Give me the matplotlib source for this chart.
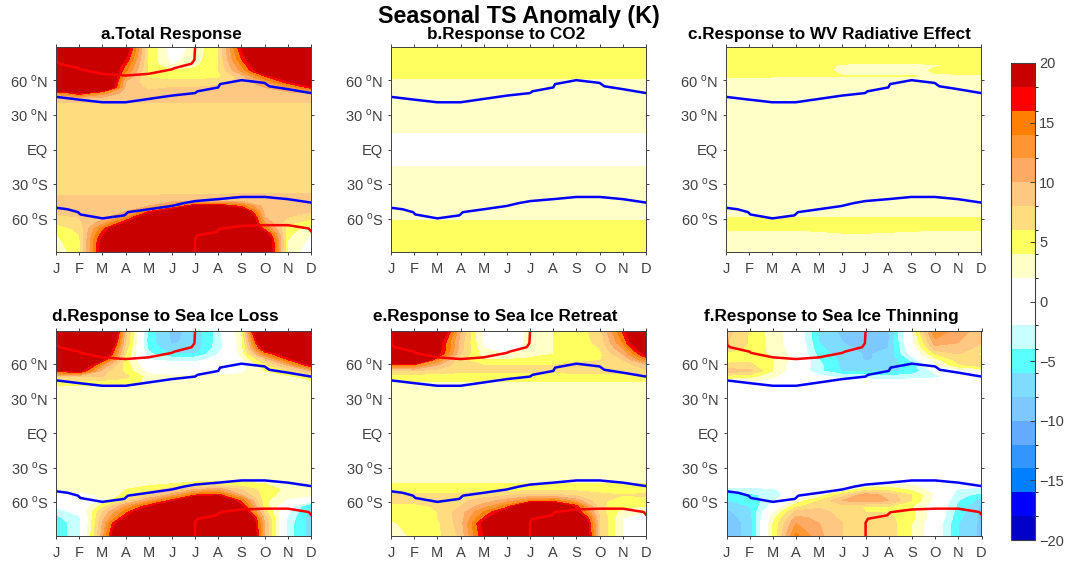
import matplotlib
matplotlib.use('Agg')
import matplotlib.pyplot as plt
from matplotlib.colors import ListedColormap, BoundaryNorm
import numpy as np

plt.rcParams['font.family'] = ['Liberation Sans', 'DejaVu Sans']
plt.rcParams['mathtext.fontset'] = 'custom'
plt.rcParams['mathtext.rm'] = 'Liberation Sans'

months = [1, 2, 3, 4, 5, 6, 7, 8, 9, 10, 11, 12]
month_labels = ['J', 'F', 'M', 'A', 'M', 'J', 'J', 'A', 'S', 'O', 'N', 'D']
lats = [89, 78.4, 73.5, 68.6, 63.7, 58.8, 53.9, 49, 44.1, 39.2, 29.4, 0,
        -29.4, -39.2, -44.1, -49, -53.9, -58.8, -63.7, -68.6, -73.5, -78.4, -89]
lat_ticks = [-60, -30, 0, 30, 60]
lat_labels = ['60 $^{\\mathrm{o}}$S', '30 $^{\\mathrm{o}}$S', 'EQ', '30 $^{\\mathrm{o}}$N', '60 $^{\\mathrm{o}}$N']
levels = [-20, -18, -16, -14, -12, -10, -8, -6, -4, -2, 0, 2, 4, 6, 8, 10, 12, 14, 16, 18, 20]
colors = ['#0000c8', '#0000ff', '#0080ff', '#3296ff', '#64aaff', '#7dc8ff', '#7ddcff', '#5affff', '#c8ffff', '#ffffff',
          '#ffffff', '#ffffc8', '#ffff5f', '#ffdc7d', '#ffc882', '#ffaa64', '#ff9632', '#ff8000', '#ff0000', '#c80000']

# sea ice edge lines
nh_edge_x = [1, 1.03, 1.15, 2, 2.05, 3, 4, 5, 6, 6.1, 6.85, 6.97, 7.0]
nh_edge_y = [89, 76.4, 74.5, 70.6, 69.6, 65.7, 64.2, 65.7, 69.6, 70.6, 74.5, 77.9, 89]
sh_edge_x = [7, 7, 7.1, 7.93, 8.07, 9, 10, 11, 11.9, 12]
sh_edge_y = [-89, -78, -74.5, -71.5, -68.8, -66.4, -65.7, -65.7, -68.6, -70.9]
# storm track lines
nh_track_x = [1, 2, 3, 4, 5, 6, 7, 7.1, 8, 8.08, 9, 10, 10.2, 11, 12]
nh_track_y = [45.7, 43.3, 41, 41, 43.9, 46.8, 49, 50.5, 53.9, 56.8, 60.2, 57.8, 54.9, 52.4, 49]
sh_track_x = [1, 1.5, 1.95, 2.05, 3, 3.95, 4.1, 5, 6, 6.5, 7, 8, 9, 10, 11, 12]
sh_track_y = [-50.6, -51.9, -54.4, -56.4, -59.8, -57.2, -54.4, -51.9, -49, -46.6, -44.8, -43.1, -41.2, -41.2, -43.1, -46.1]

ts_total = [
    [28, 28, 28, 21, 5.5, 1, 2.5, 6, 18, 28, 28, 28],
    [28, 28, 28, 18, 5.5, 1.2, 3, 6, 16, 26, 28, 28],
    [28, 28, 26, 16, 5.5, 1.9, 3.5, 6, 14, 24, 28, 28],
    [28, 28, 26, 14.5, 5.5, 4, 4.5, 6, 12.5, 22, 28, 28],
    [28, 28, 28, 12, 5.7, 5, 5, 5.5, 9, 16, 22, 25],
    [28, 28, 28, 10, 6.5, 6.5, 6.5, 7, 8.5, 12, 17.5, 22],
    [28, 28, 26, 9.5, 7.5, 8, 8, 8.5, 9, 10, 12, 17],
    [13, 18, 13, 9, 8.5, 8.5, 8.5, 8.5, 9, 9, 9.5, 10],
    [8.8, 8.8, 8.8, 8.8, 8.7, 8.7, 8.7, 8.8, 8.8, 8.8, 8.8, 8.8],
    [7.5, 7.5, 7.5, 7.5, 7.5, 7.5, 7.5, 7.5, 7.6, 7.6, 7.6, 7.6],
    [7, 7, 7, 7, 7, 7, 7, 7, 7, 7, 7, 7],
    [7, 7, 7, 7, 7, 7, 7, 7, 7, 7, 7, 7],
    [7, 7, 7, 7, 7, 7, 7, 7, 7, 7, 7, 7],
    [7.9, 7.9, 7.9, 7.9, 7.9, 8, 8, 8, 8.1, 8.1, 8.1, 8.1],
    [8.6, 8.6, 8.6, 8.6, 8.7, 8.8, 8.8, 8.8, 8.8, 8.8, 8.7, 8.6],
    [8.5, 8.5, 8.5, 9, 10, 13, 18.5, 19, 15, 9, 8.5, 8.5],
    [8.5, 8.5, 8.5, 10, 16, 21, 28, 28, 22, 9.5, 8.5, 8],
    [7.5, 8, 9, 13, 22, 28, 28, 28, 28, 10, 8, 6.5],
    [6.2, 7.5, 11, 18, 28, 28, 28, 28, 28, 12, 6.5, 5],
    [5, 6.5, 15, 25, 28, 28, 28, 28, 28, 15, 5, 3],
    [4, 6, 17, 27, 28, 28, 28, 28, 28, 20, 4.5, 2],
    [3.5, 5.5, 19, 28, 28, 28, 28, 28, 28, 24, 4, 1.5],
    [3, 5, 20, 28, 28, 28, 28, 28, 28, 25, 3.5, 0.5],
]

ts_co2 = [
    [5, 5, 5, 5, 5, 5, 5, 5, 5, 5, 5, 5],
    [5, 5, 5, 5, 5, 5, 5, 5, 5, 5, 5, 5],
    [4.8, 4.8, 4.8, 4.8, 4.8, 4.8, 4.8, 4.8, 4.8, 4.8, 4.8, 4.8],
    [4.6, 4.6, 4.6, 4.6, 4.6, 4.6, 4.6, 4.6, 4.6, 4.6, 4.6, 4.6],
    [4.2, 4.2, 4.2, 4.2, 4.2, 4.2, 4.2, 4.2, 4.2, 4.2, 4.2, 4.2],
    [3.8, 3.8, 3.8, 3.8, 3.8, 3.8, 3.8, 3.8, 3.8, 3.8, 3.8, 3.8],
    [3.5, 3.5, 3.5, 3.5, 3.5, 3.5, 3.5, 3.5, 3.5, 3.5, 3.5, 3.5],
    [3.3, 3.3, 3.3, 3.3, 3.3, 3.3, 3.3, 3.3, 3.3, 3.3, 3.3, 3.3],
    [3, 3, 3, 3, 3, 3, 3, 3, 3, 3, 3, 3],
    [2.8, 2.8, 2.8, 2.8, 2.8, 2.8, 2.8, 2.8, 2.8, 2.8, 2.8, 2.8],
    [2.5, 2.5, 2.5, 2.5, 2.5, 2.5, 2.5, 2.5, 2.5, 2.5, 2.5, 2.5],
    [1.5, 1.5, 1.5, 1.5, 1.5, 1.5, 1.5, 1.5, 1.5, 1.5, 1.5, 1.5],
    [2.5, 2.5, 2.5, 2.52, 2.5, 2.5, 2.5, 2.5, 2.52, 2.52, 2.52, 2.5],
    [2.8, 2.8, 2.8, 2.8, 2.8, 2.8, 2.8, 2.8, 2.8, 2.8, 2.8, 2.8],
    [3, 3, 3, 3, 3, 3, 3, 3, 3, 3, 3, 3],
    [3.3, 3.3, 3.3, 3.3, 3.3, 3.3, 3.3, 3.3, 3.3, 3.3, 3.3, 3.3],
    [3.5, 3.5, 3.5, 3.5, 3.5, 3.5, 3.5, 3.5, 3.5, 3.5, 3.5, 3.5],
    [3.8, 3.8, 3.8, 3.8, 3.8, 3.8, 3.8, 3.8, 3.8, 3.8, 3.8, 3.8],
    [4.2, 4.2, 4.2, 4.2, 4.2, 4.2, 4.2, 4.2, 4.2, 4.2, 4.2, 4.2],
    [4.6, 4.6, 4.6, 4.6, 4.6, 4.6, 4.6, 4.6, 4.6, 4.6, 4.6, 4.6],
    [4.8, 4.8, 4.8, 4.8, 4.8, 4.8, 4.8, 4.8, 4.8, 4.8, 4.8, 4.8],
    [5, 5, 5, 5, 5, 5, 5, 5, 5, 5, 5, 5],
    [5, 5, 5, 5, 5, 5, 5, 5, 5, 5, 5, 5],
]

ts_wv = [
    [4.6, 4.6, 4.6, 4.6, 4.6, 4.6, 4.6, 4.6, 4.6, 4.6, 4.6, 4.6],
    [4.4, 4.4, 4.4, 4.4, 4.4, 4.4, 4.4, 4.4, 4.4, 4.4, 4.4, 4.4],
    [4.2, 4.2, 4.2, 4.2, 4.15, 3.95, 3.85, 3.85, 3.9, 3.95, 4.1, 4.2],
    [4.3, 4.3, 4.3, 4.3, 4.15, 3.9, 3.8, 3.8, 3.85, 4.05, 4.1, 4.2],
    [4.1, 4.1, 4.05, 4.05, 4.05, 4.02, 4.02, 4.02, 4.02, 3.95, 3.95, 3.95],
    [3.7, 3.7, 3.7, 3.7, 3.7, 3.7, 3.7, 3.7, 3.7, 3.7, 3.7, 3.7],
    [3.4, 3.4, 3.4, 3.4, 3.4, 3.4, 3.4, 3.4, 3.4, 3.4, 3.4, 3.4],
    [3.2, 3.2, 3.2, 3.2, 3.2, 3.2, 3.2, 3.2, 3.2, 3.2, 3.2, 3.2],
    [3, 3, 3, 3, 3, 3, 3, 3, 3, 3, 3, 3],
    [2.8, 2.8, 2.8, 2.8, 2.8, 2.8, 2.8, 2.8, 2.8, 2.8, 2.8, 2.8],
    [2.5, 2.5, 2.5, 2.5, 2.5, 2.5, 2.5, 2.5, 2.5, 2.5, 2.5, 2.5],
    [2.4, 2.4, 2.4, 2.4, 2.4, 2.4, 2.4, 2.4, 2.4, 2.4, 2.4, 2.4],
    [2.5, 2.5, 2.5, 2.5, 2.5, 2.5, 2.5, 2.5, 2.5, 2.5, 2.5, 2.5],
    [2.8, 2.8, 2.8, 2.8, 2.8, 2.8, 2.8, 2.8, 2.8, 2.8, 2.8, 2.8],
    [3, 3, 3, 3, 3, 3, 3, 3, 3, 3, 3, 3],
    [3.3, 3.3, 3.3, 3.3, 3.3, 3.3, 3.3, 3.3, 3.3, 3.3, 3.3, 3.3],
    [3.6, 3.6, 3.6, 3.6, 3.6, 3.6, 3.6, 3.6, 3.6, 3.6, 3.6, 3.6],
    [3.95, 3.95, 3.95, 3.95, 3.95, 3.95, 3.95, 3.95, 3.95, 3.95, 3.95, 3.95],
    [4.4, 4.4, 4.4, 4.4, 4.4, 4.4, 4.4, 4.4, 4.4, 4.4, 4.4, 4.4],
    [4.1, 4.1, 4.1, 4.1, 4.15, 4.2, 4.25, 4.2, 4.15, 4.1, 4.1, 4.1],
    [3.8, 3.8, 3.8, 3.8, 3.85, 3.95, 3.95, 3.9, 3.85, 3.8, 3.8, 3.8],
    [3.7, 3.7, 3.7, 3.7, 3.7, 3.7, 3.7, 3.7, 3.7, 3.7, 3.7, 3.7],
    [3.5, 3.5, 3.5, 3.5, 3.5, 3.5, 3.5, 3.5, 3.5, 3.5, 3.5, 3.5],
]

ts_loss = [
    [30, 30, 36, 9, -5, -8.5, -7.5, -3, 4, 32, 32, 32],
    [30, 30, 30, 8, -5, -8.2, -7.5, -3, 3, 24, 30, 30],
    [30, 30, 26, 7, -4.5, -7.5, -7, -3, 3, 20, 30, 30],
    [30, 30, 24, 6, -3.5, -6, -6, -2, 2.5, 14, 20, 28],
    [30, 30, 18.5, 5, -2, -2.5, -2.5, -1.5, 1.5, 8, 16, 24],
    [26, 24, 12, 5, 0, -1, -1, -0.5, 1, 5, 10, 18],
    [17, 19, 9, 5.5, 1, 0.5, 0.5, 1, 1.5, 4, 6, 10],
    [8, 8, 8, 6.5, 3, 2.5, 2.5, 2.5, 2.5, 3, 3.5, 5],
    [5, 5, 5, 5, 3.5, 3, 3, 3, 3, 3, 3, 3.5],
    [3.5, 3.5, 3.5, 3.5, 3.2, 3, 3, 3, 3, 3, 3, 3],
    [3, 3, 3, 3, 3, 3, 3, 3, 3, 3, 3, 3],
    [2.8, 2.8, 2.8, 2.8, 2.8, 2.8, 2.8, 2.8, 2.8, 2.8, 2.8, 2.8],
    [3, 3, 3, 3, 3, 3, 3, 3, 3, 3, 3, 3],
    [3, 3, 3, 3, 3, 3, 3, 3, 3, 3, 3, 3],
    [3, 3, 3, 3.3, 3.5, 4, 4.5, 4.8, 4.5, 4, 3.5, 3],
    [2.4, 2.5, 2.5, 4, 5, 7, 10, 11, 8, 5, 3.5, 3],
    [1.5, 1.5, 2.2, 4.5, 7.5, 11, 16, 17, 10, 5, 2.8, 2.5],
    [0, 0, 2.5, 7, 12, 17, 24, 24, 15.5, 4.5, 1.5, -1.5],
    [-1.6, -0.5, 5, 12, 17.5, 24, 30, 30, 18.5, 5, -0.5, -6.5],
    [-3.5, -1, 8, 15, 23, 28, 28, 28, 22, 7, -1.5, -7],
    [-4.5, -2.5, 9, 18, 26, 28, 28, 28, 28, 9, -2.5, -7],
    [-5, -3, 10, 24, 28, 28, 28, 28, 30, 10, -3, -7],
    [-5, -3, 11, 28, 28, 28, 28, 28, 32, 10, -3, -7],
]

ts_retreat = [
    [30, 30, 24, 10, 1, 0.5, 2.5, 4, 5, 7, 16.5, 28],
    [30, 30, 20, 9, 1.5, 0.5, 2.5, 4, 5, 6.5, 14, 26],
    [30, 30, 20, 9, 2, 0.8, 2.5, 4, 5, 6, 12, 22],
    [30, 30, 19, 8, 3, 1.9, 3, 4, 5, 5.5, 10, 19],
    [30, 28, 14, 6.5, 4, 4, 4.5, 5, 5.5, 5.8, 8, 14],
    [14, 14, 10, 6.5, 6, 6, 6, 6, 6.5, 7, 7, 9],
    [7.5, 8, 7, 6.6, 6.6, 6.6, 6.6, 6.6, 6.8, 7, 7, 7.5],
    [4.8, 4.8, 4.8, 4.8, 4.8, 4.8, 4.8, 4.8, 4.8, 4.8, 4.8, 4.8],
    [3.8, 3.8, 3.8, 3.8, 3.8, 3.8, 3.8, 3.8, 3.8, 3.8, 3.8, 3.8],
    [3.2, 3.2, 3.2, 3.2, 3.2, 3.2, 3.2, 3.2, 3.2, 3.2, 3.2, 3.2],
    [3, 3, 3, 3, 3, 3, 3, 3, 3, 3, 3, 3],
    [2.8, 2.8, 2.8, 2.8, 2.8, 2.8, 2.8, 2.8, 2.8, 2.8, 2.8, 2.8],
    [3, 3, 3, 3, 3, 3, 3, 3, 3, 3, 3, 3],
    [3.2, 3.2, 3.2, 3.2, 3.2, 3.2, 3.2, 3.2, 3.2, 3.2, 3.2, 3.2],
    [4, 4, 4, 4, 4, 4, 4, 4, 4, 4, 4, 4],
    [5, 5, 5, 5, 5, 5.2, 5.3, 5.5, 5.5, 5.2, 5, 5],
    [6.5, 6.5, 6.5, 6.5, 7, 7.5, 8.5, 8.5, 7.5, 6.5, 6, 6.5],
    [6.5, 6.5, 6.8, 7.5, 9, 11, 14, 15, 11, 6.5, 5, 5],
    [5.5, 5.5, 6.2, 8, 11, 15, 25, 24, 17, 6.5, 4.5, 3.9],
    [4.5, 5, 6, 9, 14, 20, 26, 26, 18.5, 7, 3, 2],
    [4.2, 4.8, 6, 9, 16, 24, 28, 28, 24, 8, 2, 1.6],
    [3.8, 4.5, 5.5, 9, 19, 28, 30, 30, 28, 8, 1.8, 1.5],
    [3.5, 4.2, 5.5, 8.5, 18, 28, 30, 30, 30, 8, 1.8, 1],
]

ts_thin = [
    [9, 5.8, 3, 0.5, -6.5, -8.5, -9.5, -8.5, 2, 14, 11, 9],
    [8, 5.8, 3, 0.5, -6, -8, -9, -8, 1, 11, 10, 8],
    [7, 5.6, 3.2, 0.8, -5.5, -7.5, -8.5, -8, 0, 9, 9.5, 7],
    [5.5, 5.2, 3.5, 1, -5, -7, -8.2, -7.5, -1, 6, 8, 5.5],
    [5.2, 5.5, 4, 1, -4, -6.5, -8.2, -7.5, -3.5, 3, 7, 6.5],
    [6.5, 6.5, 4, 0.5, -3.5, -6.5, -7.5, -7, -5, 1.5, 5.5, 7],
    [9, 8.5, 4, 0, -3.5, -6.2, -6.5, -6.5, -5.5, -1.5, 0.5, 1.8],
    [5, 4.5, 2.5, -0.5, -1.5, -2.5, -3, -3.5, -3, -2.5, -1, 0.5],
    [1.5, 1.5, 1, 0, -0.3, -0.5, -0.5, -0.6, -0.6, -0.5, -0.3, 0],
    [0.5, 0.5, 0.4, 0, 0, 0, 0, 0, 0, 0, 0, 0],
    [0.3, 0.3, 0.3, 0, 0, 0, 0, 0, 0, 0, 0, 0],
    [0, 0, 0, 0, 0, 0, 0, 0, 0, 0, 0, 0],
    [0, 0, 0, 0, 0, 0, 0, 0, 0, 0, 0, 0],
    [0, 0, 0, 0, 0, 0.2, 0.3, 0.3, 0.2, 0, 0, 0],
    [-0.8, -0.8, -0.7, -0.4, 0, 1.5, 2, 2, 1.5, 0, -0.8, -0.8],
    [-2.4, -2.8, -2.2, -1, 0.5, 2, 5, 5, 3.5, 1, -2.2, -2.6],
    [-5, -4.6, -3, -0.5, 2.5, 7, 11.5, 9, 6, 1.5, -3, -5],
    [-6.1, -5.5, -2.5, 2.5, 6, 10, 11, 10, 6, 1, -4, -7],
    [-7.9, -6, -1, 5.5, 7.5, 7, 5.8, 6, 4, 0.5, -4.5, -8.5],
    [-8.5, -6.5, 1.5, 8.5, 9, 7, 6, 6, 4.5, 0.5, -5, -8.5],
    [-9, -7, 3, 10.5, 9.5, 7.5, 6.8, 6.5, 4.5, 0.5, -5.5, -8.5],
    [-9, -7.5, 4, 12, 10, 8, 7.5, 7, 4, 0, -6, -8.5],
    [-9, -7.5, 4, 14.5, 10.5, 8, 7.5, 7, 4, 0, -6, -8.5],
]

panels = [ts_total, ts_co2, ts_wv, ts_loss, ts_retreat, ts_thin]
titles = ['a.Total Response', 'b.Response to CO2', 'c.Response to WV Radiative Effect',
          'd.Response to Sea Ice Loss', 'e.Response to Sea Ice Retreat', 'f.Response to Sea Ice Thinning']
has_edge = [True, False, False, True, True, True]

W, H = 1066.0, 562.0
left_px = [56, 391, 726, 56, 391, 726.5]
top_px = [47, 47, 47, 330.5, 330.5, 330.5]
title_x = [171, 506, 829, 165.5, 495.5, 831.5]
title_y = [34, 34, 34, 316, 316, 316]
ax_w, ax_h = 255.0, 205.0
dark = '#404040'

cmap = ListedColormap(colors)
cmap.set_over(colors[-1])
cmap.set_under(colors[0])
norm = BoundaryNorm(levels, cmap.N)

fig = plt.figure(figsize=(W / 100, H / 100), dpi=100)

for i, data in enumerate(panels):
    ax = fig.add_axes([left_px[i] / W, 1 - (top_px[i] + ax_h) / H, ax_w / W, ax_h / H])
    ax.contourf(months, lats, np.array(data), levels=levels, cmap=cmap, norm=norm, extend='both')
    ax.plot(nh_track_x, nh_track_y, color='#0000ff', lw=1.8)
    ax.plot(sh_track_x, sh_track_y, color='#0000ff', lw=1.8)
    if has_edge[i]:
        ax.plot(nh_edge_x, nh_edge_y, color='#ff0000', lw=1.8)
        ax.plot(sh_edge_x, sh_edge_y, color='#ff0000', lw=1.8)
    ax.set_xlim(1, 12)
    ax.set_ylim(-89, 89)
    ax.set_xticks(months)
    ax.set_xticklabels(month_labels)
    ax.set_yticks(lat_ticks)
    ax.set_yticklabels(lat_labels)
    ax.tick_params(direction='out', length=2.5, width=0.7, top=True, right=True, color=dark,
                   labelsize=10.5, labelcolor=dark)
    ax.tick_params(axis='x', pad=5)
    ax.tick_params(axis='y', pad=3)
    for s in ax.spines.values():
        s.set_linewidth(0.7)
        s.set_color(dark)
    fig.text(title_x[i] / W, 1 - title_y[i] / H, titles[i], fontsize=12.3, fontweight='bold', ha='center', va='center')

fig.text(519 / W, 1 - 17 / H, 'Seasonal TS Anomaly (K)', fontsize=16.8, fontweight='bold', ha='center', va='center')

cax = fig.add_axes([1011 / W, 1 - 540 / H, 24 / W, 477 / H])
cb = fig.colorbar(plt.cm.ScalarMappable(norm=norm, cmap=cmap), cax=cax, ticks=[-20, -15, -10, -5, 0, 5, 10, 15, 20],
                  spacing='proportional')
cb.ax.tick_params(direction='in', length=3.5, width=0.7, color=dark, labelsize=10.5, labelcolor=dark, pad=3)
cb.outline.set_linewidth(0.8)
cb.outline.set_edgecolor(dark)

fig.savefig('out.png', dpi=100)
